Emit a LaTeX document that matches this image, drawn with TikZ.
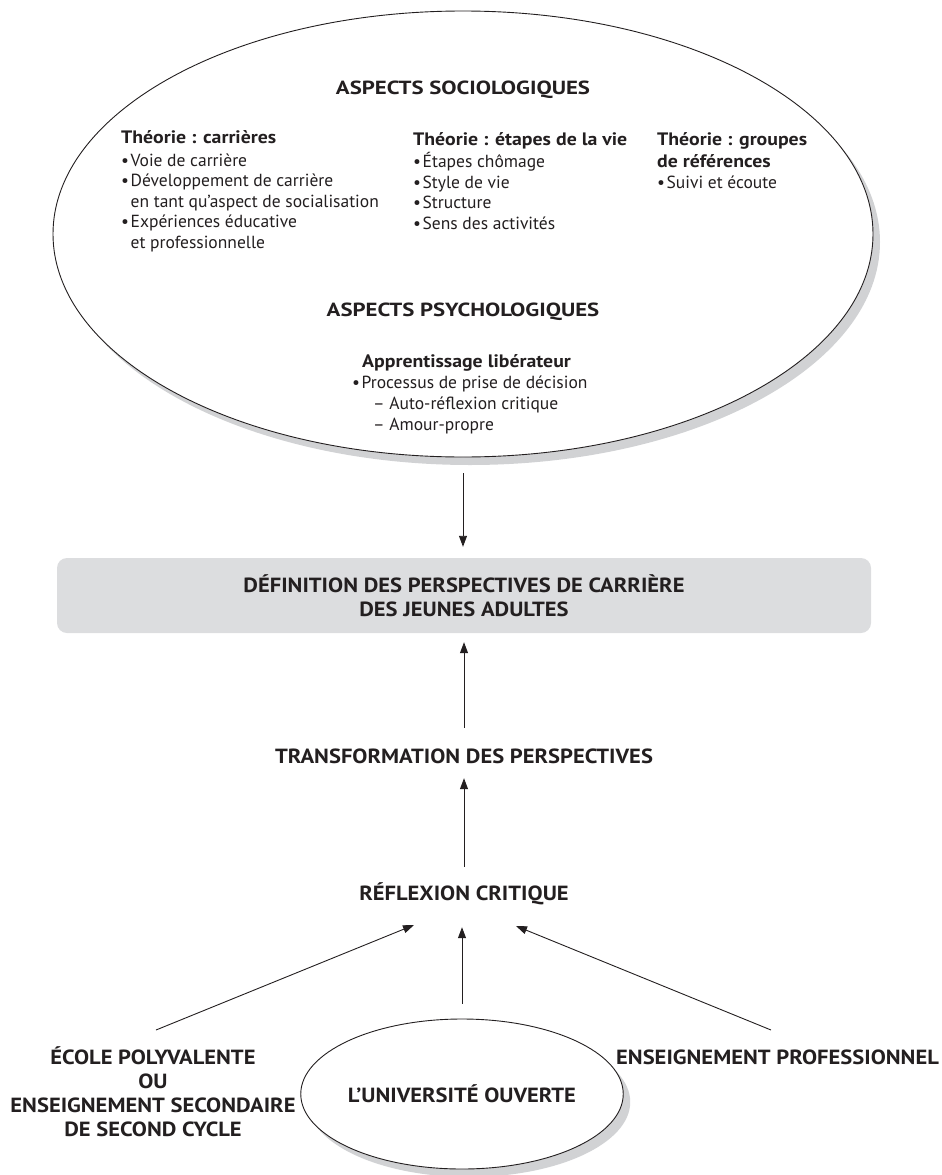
\documentclass[tikz,border=0pt]{standalone}
\usepackage{fontspec}
\setmainfont{PT Sans}
\newfontfamily\widefont{PT Sans}[FakeStretch=1.1]
\newfontfamily\headfont{PT Sans}[FakeStretch=1.2]
\usetikzlibrary{shapes.geometric,arrows.meta,shadows}
\definecolor{ink}{HTML}{231F20}
\definecolor{shade}{HTML}{D1D2D4}
\definecolor{panel}{HTML}{DCDDDF}
\newcommand{\bul}{\makebox[9.5pt][l]{•}}
\newcommand{\ind}{\hspace*{9.5pt}}
\newcommand{\thead}[1]{{\widefont\bfseries\fontsize{18}{20.5}\selectfont #1}}
\begin{document}
\begin{tikzpicture}[x=1pt,y=-1pt,
  every node/.style={text=ink, inner sep=0pt},
  oval/.style={ellipse, draw=ink, line width=0.9pt, fill=white,
    drop shadow={shadow xshift=7pt, shadow yshift=-8pt, fill=shade, opacity=1}},
  % multi-line body texts are anchored at the baseline of their last line
  body/.style={font=\fontsize{17.5}{20.5}\selectfont, align=left, anchor=base west},
  head/.style={font=\headfont\bfseries\fontsize{19}{22}\selectfont, anchor=base},
  lbl/.style={font=\widefont\bfseries\fontsize{20.5}{24}\selectfont, text height=14pt, text depth=4pt, anchor=base},
  mlbl/.style={font=\widefont\bfseries\fontsize{20.5}{24}\selectfont, align=center},
  arr/.style={draw=ink, line width=0.9pt, -{Triangle[length=11pt,width=8pt]}},
]
\useasboundingbox (0,0) rectangle (942,1175);

% upper oval with the theoretical aspects
\node[oval, minimum width=820pt, minimum height=446pt] (socio) at (463,234) {};
\node[head] (socT) at (463,94) {ASPECTS SOCIOLOGIQUES};
\node[body] (col1) at (121,248) {\thead{Théorie : carrières}\\[2pt]
  \bul Voie de carrière\\
  \bul Développement de carrière\\
  \ind en tant qu’aspect de socialisation\\
  \bul Expériences éducative\\
  \ind et professionnelle};
\node[body] (col2) at (413,229) {\thead{Théorie : étapes de la vie}\\[2pt]
  \bul Étapes chômage\\
  \bul Style de vie\\
  \bul Structure\\
  \bul Sens des activités};
\node[body] (col3) at (657,188) {\thead{Théorie : groupes}\\[2pt]
  \thead{de références}\\
  \bul Suivi et écoute};
\node[head] (psyT) at (463,316) {ASPECTS PSYCHOLOGIQUES};
\node[body, font=\fontsize{17.5}{21}\selectfont] (psy) at (352,430) {\hspace*{10pt}\thead{Apprentissage libérateur}\\
  \bul Processus de prise de décision\\
  \hspace*{21pt}– Auto-réflexion critique\\
  \hspace*{21pt}– Amour-propre};

% central chain
\node[fill=panel, rounded corners=10pt, minimum width=814pt, minimum height=75pt, mlbl] (defn) at (464,595.5)
  {DÉFINITION DES PERSPECTIVES DE CARRIÈRE\\DES JEUNES ADULTES};
\node[lbl] (trans) at (464,763) {TRANSFORMATION DES PERSPECTIVES};
\node[lbl] (refl) at (464,900) {RÉFLEXION CRITIQUE};

% sources
\node[mlbl, anchor=base] (ecole) at (153,1136) {ÉCOLE POLYVALENTE\\OU\\ENSEIGNEMENT SECONDAIRE\\DE SECOND CYCLE};
\node[oval, minimum width=276pt, minimum height=150pt, mlbl] (univ) at (462,1094) {L’UNIVERSITÉ OUVERTE};
\node[lbl, anchor=base west] (prof) at (616,1064) {ENSEIGNEMENT PROFESSIONNEL};

\coordinate (ecoleOut) at (156,1030);
\coordinate (reflInL) at (414,925);
\coordinate (profOut) at (771,1030);
\coordinate (reflInR) at (516,926);

\draw[arr, shorten <=16pt, shorten >=11pt] (socio.south) -- (socio.south |- defn.north);
\draw[arr, shorten <=21pt, shorten >=9pt] (trans.north) -- (defn.south);
\draw[arr, shorten <=19pt, shorten >=11pt] (refl.north) -- (trans.south);
\draw[arr] (ecoleOut) -- (reflInL);
\draw[arr, shorten <=15pt, shorten >=23pt] (univ.north) -- (univ.north |- refl.south);
\draw[arr] (profOut) -- (reflInR);
\end{tikzpicture}
\end{document}
